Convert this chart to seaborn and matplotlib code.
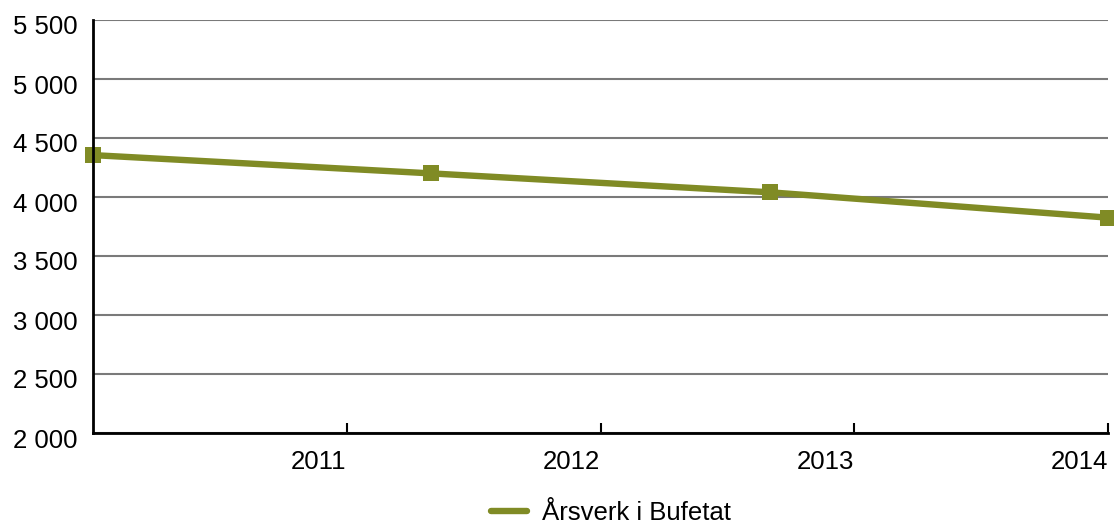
import numpy as np
import pandas as pd
import seaborn as sns
import matplotlib.pyplot as plt
import matplotlib.transforms as mtransforms
from matplotlib.ticker import FuncFormatter

years = ["2011", "2012", "2013", "2014"]
aarsverk = [4355, 4200, 4040, 3825]
series_name = "Årsverk i Bufetat"
line_color = "#808b25"

sns.set_theme(style="white")
plt.rcParams["font.family"] = ["Liberation Sans", "DejaVu Sans"]
plt.rcParams["text.color"] = "black"
plt.rcParams["xtick.color"] = "black"
plt.rcParams["ytick.color"] = "black"

df = pd.DataFrame({"pos": np.arange(len(years)), "value": aarsverk, "serie": series_name})

fig = plt.figure(figsize=(11.14, 5.24), dpi=100)
ax = fig.add_axes([93 / 1114, 1 - 433 / 524, (1108 - 93) / 1114, (433 - 20) / 524])

sns.lineplot(data=df, x="pos", y="value", hue="serie", palette=[line_color],
             linewidth=4.6, marker="s", markersize=11, markeredgewidth=0,
             clip_on=False, legend=False, ax=ax)

n = len(years)
ax.set_xlim(0, n - 1)
ax.set_ylim(2000, 5500)
ax.set_yticks(np.arange(2000, 5501, 500))
ax.yaxis.set_major_formatter(FuncFormatter(lambda v, p: f"{int(v):,}".replace(",", " ")))

# category bands: ticks at the right edge of each band, labels right aligned
band_edges = (np.arange(n) + 1) * (n - 1) / n
ax.set_xticks(band_edges)
ax.set_xticklabels(years)
ax.tick_params(axis="x", direction="in", length=7, width=1.5, color="black",
               labelsize=18.5, pad=12, bottom=True)
ax.tick_params(axis="y", length=0, labelsize=18.5, pad=11)
for lab in ax.get_xticklabels():
    lab.set_horizontalalignment("right")

# y labels sit a little below their gridline in the original
shift = mtransforms.ScaledTranslation(0, -5 / 100, fig.dpi_scale_trans)
for lab in ax.get_yticklabels():
    lab.set_transform(lab.get_transform() + shift)

ax.set_xlabel("")
ax.set_ylabel("")
ax.grid(axis="y", color="#7a7a7a", linewidth=1.5)
ax.grid(axis="x", visible=False)
for s in ["top", "right"]:
    ax.spines[s].set_visible(False)
for s in ["left", "bottom"]:
    ax.spines[s].set_color("black")
    ax.spines[s].set_linewidth(2)

fig.legend([plt.Line2D([], [], color=line_color, linewidth=4.6)], [series_name],
           loc="center", bbox_to_anchor=(611 / 1114, 1 - 513 / 524),
           frameon=False, fontsize=18.5, handlelength=1.4, handletextpad=0.6)

fig.savefig("out.png", dpi=100)
